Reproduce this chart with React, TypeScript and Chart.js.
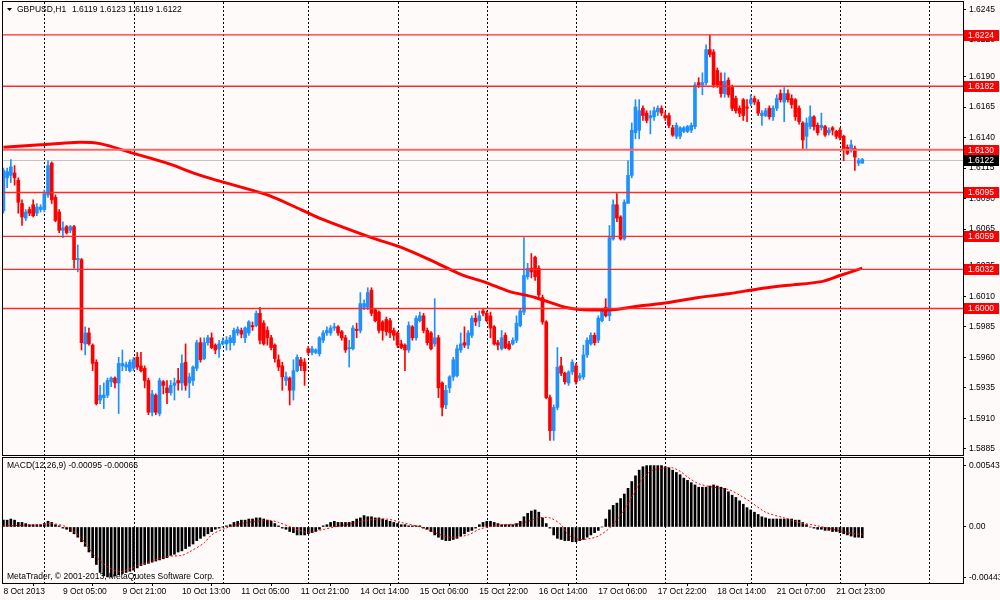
import React, { useEffect, useRef } from "react";
import { Chart, registerables } from "chart.js";

Chart.register(...registerables);

// ---------------- DATA ----------------
const symbolTitle = "GBPUSD,H1";
const macdTitle = "MACD(12,26,9) -0.00095 -0.00066";
const copyrightText = "MetaTrader, \u00A9 2001-2013, MetaQuotes Software Corp.";

const openP = [
  1.6080, 1.6107, 1.6109, 1.6111, 1.6105, 1.6086, 1.6074, 1.6081, 1.6085, 1.6078,
  1.6081, 1.6081, 1.6093, 1.6119, 1.6091, 1.6079, 1.6064, 1.6067, 1.6064, 1.6067,
  1.6040, 1.6040, 1.5971, 1.5980, 1.5970, 1.5956, 1.5925, 1.5927, 1.5929, 1.5940,
  1.5943, 1.5939, 1.5953, 1.5952, 1.5949, 1.5951, 1.5960, 1.5953, 1.5951, 1.5941,
  1.5915, 1.5929, 1.5914, 1.5940, 1.5935, 1.5931, 1.5937, 1.5941, 1.5939, 1.5956,
  1.5939, 1.5941, 1.5951, 1.5972, 1.5959, 1.5972, 1.5976, 1.5970, 1.5967, 1.5971,
  1.5971, 1.5972, 1.5972, 1.5980, 1.5982, 1.5976, 1.5980, 1.5986, 1.5986, 1.5996,
  1.5988, 1.5982, 1.5976, 1.5970, 1.5958, 1.5953, 1.5941, 1.5943, 1.5933, 1.5949,
  1.5958, 1.5956, 1.5967, 1.5964, 1.5964, 1.5963, 1.5974, 1.5980, 1.5980, 1.5984,
  1.5985, 1.5981, 1.5976, 1.5967, 1.5967, 1.5983, 1.5982, 1.6001, 1.6001, 1.6015,
  1.5999, 1.5997, 1.5989, 1.5991, 1.5990, 1.5982, 1.5980, 1.5971, 1.5970, 1.5966,
  1.5985, 1.5976, 1.5990, 1.5994, 1.5982, 1.5980, 1.5971, 1.5976, 1.5939, 1.5921,
  1.5935, 1.5944, 1.5945, 1.5966, 1.5972, 1.5970, 1.5978, 1.5992, 1.5990, 1.5998,
  1.5996, 1.5994, 1.5985, 1.5972, 1.5967, 1.5978, 1.5971, 1.5971, 1.5974, 1.5986,
  1.5997, 1.6026, 1.6033, 1.6042, 1.6033, 1.6009, 1.5989, 1.5927, 1.5900, 1.5919,
  1.5953, 1.5947, 1.5939, 1.5948, 1.5953, 1.5943, 1.5944, 1.5962, 1.5971, 1.5978,
  1.5974, 1.5990, 1.6001, 1.5994, 1.6057, 1.6085, 1.6075, 1.6057, 1.6086, 1.6109,
  1.6144, 1.6146, 1.6164, 1.6160, 1.6156, 1.6157, 1.6161, 1.6164, 1.6158, 1.6158,
  1.6148, 1.6141, 1.6141, 1.6145, 1.6145, 1.6146, 1.6149, 1.6185, 1.6183, 1.6185,
  1.6212, 1.6210, 1.6195, 1.6186, 1.6176, 1.6187, 1.6181, 1.6172, 1.6164, 1.6171,
  1.6165, 1.6168, 1.6172, 1.6169, 1.6158, 1.6158, 1.6164, 1.6157, 1.6164, 1.6176,
  1.6169, 1.6176, 1.6172, 1.6171, 1.6164, 1.6152, 1.6141, 1.6149, 1.6157, 1.6150,
  1.6148, 1.6149, 1.6144, 1.6148, 1.6145, 1.6146, 1.6141, 1.6132, 1.6130, 1.6131,
  1.6119, 1.6119,
];

const highP = [
  1.6115, 1.6115, 1.6122, 1.6117, 1.6107, 1.6089, 1.6081, 1.6083, 1.6089, 1.6086,
  1.6085, 1.6097, 1.6121, 1.6120, 1.6093, 1.6081, 1.6071, 1.6068, 1.6068, 1.6068,
  1.6052, 1.6041, 1.5985, 1.5984, 1.5971, 1.5958, 1.5937, 1.5939, 1.5943, 1.5944,
  1.5944, 1.5960, 1.5966, 1.5956, 1.5958, 1.5960, 1.5964, 1.5964, 1.5953, 1.5943,
  1.5933, 1.5930, 1.5943, 1.5941, 1.5941, 1.5941, 1.5943, 1.5951, 1.5962, 1.5971,
  1.5947, 1.5953, 1.5974, 1.5976, 1.5976, 1.5978, 1.5980, 1.5971, 1.5974, 1.5976,
  1.5977, 1.5978, 1.5984, 1.5985, 1.5984, 1.5985, 1.5990, 1.5989, 1.5998, 1.6001,
  1.5990, 1.5985, 1.5978, 1.5971, 1.5962, 1.5956, 1.5948, 1.5944, 1.5958, 1.5962,
  1.5960, 1.5959, 1.5969, 1.5969, 1.5967, 1.5977, 1.5982, 1.5985, 1.5986, 1.5988,
  1.5986, 1.5982, 1.5978, 1.5974, 1.5986, 1.5988, 1.6013, 1.6007, 1.6017, 1.6017,
  1.6000, 1.5998, 1.5990, 1.5993, 1.5992, 1.5984, 1.5981, 1.5974, 1.5971, 1.5989,
  1.5986, 1.5994, 1.5997, 1.5996, 1.5984, 1.5981, 1.6008, 1.5978, 1.5940, 1.5937,
  1.5945, 1.5960, 1.5970, 1.5980, 1.5985, 1.5982, 1.5994, 1.5996, 1.5998, 1.6000,
  1.5998, 1.5997, 1.5986, 1.5974, 1.5982, 1.5980, 1.5973, 1.5976, 1.5994, 1.6000,
  1.6058, 1.6037, 1.6045, 1.6043, 1.6035, 1.6011, 1.5990, 1.5929, 1.5921, 1.5968,
  1.5960, 1.5948, 1.5949, 1.5958, 1.5955, 1.5947, 1.5970, 1.5976, 1.5980, 1.5980,
  1.5994, 1.6000, 1.6008, 1.6068, 1.6089, 1.6094, 1.6076, 1.6089, 1.6121, 1.6152,
  1.6171, 1.6171, 1.6166, 1.6162, 1.6162, 1.6165, 1.6166, 1.6166, 1.6161, 1.6160,
  1.6150, 1.6152, 1.6149, 1.6149, 1.6150, 1.6152, 1.6185, 1.6189, 1.6193, 1.6216,
  1.6224, 1.6212, 1.6197, 1.6193, 1.6193, 1.6189, 1.6183, 1.6174, 1.6166, 1.6172,
  1.6171, 1.6175, 1.6174, 1.6171, 1.6162, 1.6164, 1.6166, 1.6166, 1.6175, 1.6179,
  1.6181, 1.6179, 1.6175, 1.6172, 1.6166, 1.6153, 1.6156, 1.6166, 1.6158, 1.6152,
  1.6160, 1.6150, 1.6148, 1.6149, 1.6146, 1.6148, 1.6142, 1.6134, 1.6138, 1.6133,
  1.6123, 1.6123,
];

const lowP = [
  1.6078, 1.6099, 1.6103, 1.6101, 1.6078, 1.6068, 1.6072, 1.6076, 1.6075, 1.6076,
  1.6079, 1.6079, 1.6091, 1.6086, 1.6071, 1.6062, 1.6058, 1.6061, 1.6062, 1.6033,
  1.6030, 1.5966, 1.5962, 1.5970, 1.5949, 1.5921, 1.5922, 1.5918, 1.5927, 1.5936,
  1.5935, 1.5914, 1.5949, 1.5949, 1.5948, 1.5949, 1.5950, 1.5948, 1.5935, 1.5913,
  1.5912, 1.5913, 1.5912, 1.5930, 1.5922, 1.5929, 1.5925, 1.5933, 1.5933, 1.5933,
  1.5927, 1.5937, 1.5949, 1.5956, 1.5958, 1.5970, 1.5967, 1.5963, 1.5960, 1.5970,
  1.5966, 1.5966, 1.5970, 1.5978, 1.5976, 1.5972, 1.5978, 1.5982, 1.5985, 1.5971,
  1.5970, 1.5970, 1.5966, 1.5956, 1.5949, 1.5933, 1.5937, 1.5921, 1.5925, 1.5948,
  1.5949, 1.5937, 1.5962, 1.5962, 1.5963, 1.5961, 1.5972, 1.5978, 1.5978, 1.5982,
  1.5978, 1.5974, 1.5964, 1.5952, 1.5966, 1.5976, 1.5980, 1.5999, 1.5999, 1.5994,
  1.5989, 1.5980, 1.5974, 1.5978, 1.5976, 1.5974, 1.5968, 1.5967, 1.5949, 1.5964,
  1.5974, 1.5974, 1.5989, 1.5980, 1.5970, 1.5966, 1.5969, 1.5927, 1.5912, 1.5918,
  1.5931, 1.5941, 1.5944, 1.5964, 1.5968, 1.5967, 1.5976, 1.5986, 1.5985, 1.5994,
  1.5989, 1.5976, 1.5970, 1.5966, 1.5966, 1.5967, 1.5966, 1.5970, 1.5972, 1.5985,
  1.5995, 1.6024, 1.6025, 1.6023, 1.6009, 1.5987, 1.5926, 1.5892, 1.5892, 1.5917,
  1.5945, 1.5938, 1.5937, 1.5946, 1.5938, 1.5941, 1.5942, 1.5960, 1.5970, 1.5970,
  1.5972, 1.5989, 1.5993, 1.5990, 1.6056, 1.6071, 1.6056, 1.6056, 1.6103, 1.6107,
  1.6139, 1.6139, 1.6154, 1.6152, 1.6143, 1.6154, 1.6158, 1.6158, 1.6154, 1.6148,
  1.6141, 1.6139, 1.6139, 1.6144, 1.6144, 1.6144, 1.6147, 1.6181, 1.6175, 1.6183,
  1.6206, 1.6181, 1.6181, 1.6173, 1.6173, 1.6173, 1.6162, 1.6160, 1.6157, 1.6154,
  1.6153, 1.6166, 1.6167, 1.6158, 1.6150, 1.6157, 1.6155, 1.6154, 1.6162, 1.6169,
  1.6153, 1.6169, 1.6164, 1.6154, 1.6151, 1.6131, 1.6131, 1.6147, 1.6146, 1.6142,
  1.6146, 1.6141, 1.6142, 1.6142, 1.6139, 1.6138, 1.6121, 1.6126, 1.6128, 1.6113,
  1.6117, 1.6119,
];

const closeP = [
  1.6113, 1.6112, 1.6116, 1.6107, 1.6087, 1.6075, 1.6079, 1.6078, 1.6076, 1.6083,
  1.6083, 1.6094, 1.6117, 1.6089, 1.6072, 1.6064, 1.6066, 1.6062, 1.6067, 1.6040,
  1.6041, 1.5972, 1.5980, 1.5971, 1.5955, 1.5922, 1.5929, 1.5929, 1.5941, 1.5943,
  1.5939, 1.5955, 1.5955, 1.5954, 1.5956, 1.5958, 1.5952, 1.5949, 1.5941, 1.5915,
  1.5930, 1.5915, 1.5941, 1.5937, 1.5931, 1.5937, 1.5939, 1.5939, 1.5955, 1.5937,
  1.5944, 1.5952, 1.5972, 1.5958, 1.5972, 1.5976, 1.5968, 1.5966, 1.5971, 1.5973,
  1.5974, 1.5976, 1.5982, 1.5983, 1.5979, 1.5984, 1.5989, 1.5985, 1.5996, 1.5974,
  1.5971, 1.5976, 1.5968, 1.5959, 1.5952, 1.5944, 1.5944, 1.5933, 1.5949, 1.5960,
  1.5953, 1.5949, 1.5964, 1.5967, 1.5966, 1.5976, 1.5980, 1.5982, 1.5984, 1.5985,
  1.5980, 1.5976, 1.5966, 1.5968, 1.5984, 1.5982, 1.6004, 1.6004, 1.6013, 1.5996,
  1.5990, 1.5982, 1.5982, 1.5981, 1.5980, 1.5978, 1.5970, 1.5968, 1.5966, 1.5986,
  1.5976, 1.5992, 1.5994, 1.5982, 1.5972, 1.5967, 1.5976, 1.5935, 1.5919, 1.5933,
  1.5944, 1.5958, 1.5967, 1.5971, 1.5970, 1.5980, 1.5992, 1.5989, 1.5994, 1.5996,
  1.5990, 1.5984, 1.5971, 1.5970, 1.5976, 1.5968, 1.5967, 1.5974, 1.5988, 1.5998,
  1.6027, 1.6033, 1.6030, 1.6026, 1.6011, 1.5989, 1.5927, 1.5900, 1.5919, 1.5952,
  1.5947, 1.5940, 1.5948, 1.5956, 1.5940, 1.5945, 1.5962, 1.5974, 1.5978, 1.5972,
  1.5992, 1.5998, 1.5994, 1.6058, 1.6085, 1.6074, 1.6057, 1.6087, 1.6109, 1.6146,
  1.6165, 1.6162, 1.6158, 1.6154, 1.6158, 1.6162, 1.6164, 1.6160, 1.6156, 1.6150,
  1.6142, 1.6150, 1.6148, 1.6148, 1.6149, 1.6150, 1.6183, 1.6183, 1.6185, 1.6212,
  1.6208, 1.6183, 1.6183, 1.6176, 1.6186, 1.6175, 1.6164, 1.6162, 1.6160, 1.6158,
  1.6164, 1.6171, 1.6169, 1.6160, 1.6160, 1.6162, 1.6157, 1.6164, 1.6172, 1.6171,
  1.6176, 1.6171, 1.6167, 1.6157, 1.6153, 1.6138, 1.6152, 1.6157, 1.6149, 1.6144,
  1.6150, 1.6142, 1.6146, 1.6146, 1.6141, 1.6140, 1.6130, 1.6127, 1.6134, 1.6124,
  1.6121, 1.6122,
];

// moving average read at sampled bars
const maIdx = [0, 10, 19, 26, 35, 44, 53, 62, 71, 80, 85, 99, 107, 116, 123, 130, 136, 143, 151, 156, 164, 171, 177, 187, 195, 203, 211, 220, 225, 231];
const maVal = [1.6132, 1.6134, 1.6136, 1.6135, 1.6127, 1.6119, 1.6109, 1.6101, 1.6093, 1.6081, 1.6074, 1.6058, 1.6050, 1.6038, 1.6028, 1.6021, 1.6014, 1.6009, 1.6001, 1.5999, 1.5999, 1.6002, 1.6004, 1.6009, 1.6012, 1.6016, 1.6019, 1.6022, 1.6027, 1.6033];

const levelPrices = [1.6224, 1.6182, 1.6130, 1.6095, 1.6059, 1.6032, 1.6000];
const currentPrice = 1.6122;
const priceTicks = [1.6245, 1.6220, 1.6190, 1.6165, 1.6140, 1.6115, 1.6090, 1.6065, 1.6035, 1.6010, 1.5985, 1.5960, 1.5935, 1.5910, 1.5885];

const timeLabels = ["8 Oct 2013", "9 Oct 05:00", "9 Oct 21:00", "10 Oct 13:00", "11 Oct 05:00", "11 Oct 21:00", "14 Oct 14:00", "15 Oct 06:00", "15 Oct 22:00", "16 Oct 14:00", "17 Oct 06:00", "17 Oct 22:00", "18 Oct 14:00", "21 Oct 07:00", "21 Oct 23:00"];
const timeLabelIdx = [0, 16, 32, 48, 64, 80, 96, 112, 128, 144, 160, 176, 192, 208, 224];
const dayGridIdx = [11, 35, 59, 82, 106, 130, 154, 178, 201, 225, 249];

// MACD histogram, in units of 0.0001
const macdHistPts = [
  6, 6, 7, 6, 4, 4, 3, 2, 2, 2, 2, 3, 5, 4, 2, 1,
  -1, -2, -4, -6, -9, -13, -17, -22, -27, -33, -40, -43, -44, -44, -43, -42,
  -41, -40, -39, -38, -36, -34, -33, -32, -31, -30, -29, -28, -27, -25, -24, -22,
  -21, -19, -17, -15, -12, -10, -8, -6, -4, -2, -1, 0, 1, 2, 4, 5,
  6, 6, 7, 7, 8, 8, 7, 6, 5, 3, 1, -1, -2, -4, -5, -7,
  -7, -7, -6, -5, -4, -2, 1, 2, 4, 5, 4, 4, 4, 4, 5, 7,
  8, 10, 9, 9, 8, 8, 7, 6, 5, 4, 3, 2, 2, 1, 1, 1,
  1, -1, -2, -4, -7, -9, -11, -12, -12, -11, -10, -8, -6, -4, -3, -1,
  2, 4, 5, 5, 4, 3, 2, 2, 2, 2, 3, 5, 9, 12, 14, 15,
  13, 8, 3, -1, -7, -10, -11, -12, -12, -13, -13, -12, -11, -9, -7, -5,
  -3, 0, 7, 15, 19, 21, 25, 29, 34, 40, 45, 50, 53, 54, 54, 54,
  54, 54, 53, 52, 50, 48, 46, 43, 41, 39, 37, 35, 35, 35, 36, 37,
  36, 35, 34, 31, 28, 26, 23, 20, 17, 15, 13, 11, 9, 8, 7, 7,
  7, 7, 7, 7, 7, 6, 6, 4, 2, 0, -1, -2, -2, -3, -3, -4,
  -4, -5, -6, -7, -8, -9, -9, -9.5,
];

// MACD signal line, sampled, in units of 0.0001
const signalIdx = [0, 10, 13, 17, 21, 24, 28, 31, 33, 37, 40, 44, 48, 50, 54, 56, 59, 64, 71, 74, 78, 82, 85, 89, 92, 98, 103, 107, 112, 116, 120, 125, 128, 132, 134, 139, 144, 147, 150, 152, 155, 158, 160, 163, 167, 171, 174, 178, 180, 182, 184, 187, 191, 195, 198, 201, 205, 210, 214, 219, 223, 228, 231];
const signalPts = [1, 2, 3, 0, -10, -23, -35, -39, -38, -33, -30, -26, -25, -22, -14, -7, -2, 3, 6, 4, -1, -5, -3, 0, 2, 6, 7, 4, 0, -5, -9, -7, -2, 1, 2, 3, 8, 8, 2, -7, -11, -10, -8, -1, 15, 38, 49, 52, 52, 49, 44, 38, 35, 33, 28, 22, 13, 8, 4, 1, -2, -5.5, -6.6];

const macdTicks = [0.00543, 0, -0.00443];
const macdTickLabels = ["0.00543", "0.00", "-0.00443"];

// ---------------- STYLE ----------------
const BG = "#fffafa";
const FONT = '"Liberation Sans", Arial, sans-serif';
const FS = 8.5;
const BULL = "#1e90ff";
const BEAR = "#ff0000";
const X_MIN = -0.11;
const X_MAX = 258.09;
const AXIS_W = 37;

function drawDayGrid(chart: any) {
  const { ctx, chartArea: a, scales } = chart;
  const x = scales.x;
  ctx.save();
  ctx.strokeStyle = "#000";
  ctx.lineWidth = 1;
  ctx.setLineDash([2, 2]);
  for (const g of dayGridIdx) {
    const px = Math.round(x.getPixelForValue(g)) + 0.5;
    if (px <= a.left || px >= a.right) continue;
    ctx.beginPath();
    ctx.moveTo(px, a.top);
    ctx.lineTo(px, a.bottom);
    ctx.stroke();
  }
  ctx.restore();
}

function drawFrame(chart: any) {
  const { ctx, chartArea: a } = chart;
  ctx.save();
  ctx.strokeStyle = "#000";
  ctx.lineWidth = 1;
  ctx.strokeRect(Math.round(a.left) - 0.5, Math.round(a.top) - 0.5, Math.round(a.right - a.left) + 1, Math.round(a.bottom - a.top) + 1);
  ctx.restore();
}

const bgPlugin = {
  id: "bgPlugin",
  beforeDraw(chart: any) {
    const { ctx, width, height } = chart;
    ctx.save();
    ctx.fillStyle = BG;
    ctx.fillRect(0, 0, width, height);
    ctx.restore();
  },
};

const mainDecor = {
  id: "mainDecor",
  beforeDatasetsDraw(chart: any) {
    drawDayGrid(chart);
    const { ctx, chartArea: a, scales } = chart;
    const cy = Math.round(scales.y.getPixelForValue(currentPrice)) + 0.5;
    ctx.save();
    ctx.strokeStyle = "#c4c4c4";
    ctx.lineWidth = 1;
    ctx.beginPath();
    ctx.moveTo(a.left, cy);
    ctx.lineTo(a.right, cy);
    ctx.stroke();
    ctx.restore();
  },
  afterDatasetsDraw(chart: any) {
    const { ctx, chartArea: a, scales } = chart;
    const y = scales.y;
    ctx.save();
    // horizontal levels
    for (const p of levelPrices) {
      const py = y.getPixelForValue(p);
      const thick = Math.abs(p - 1.613) < 1e-6;
      ctx.strokeStyle = thick ? "#ff6464" : "#ff2a2a";
      ctx.lineWidth = thick ? 2 : 1.3;
      ctx.beginPath();
      ctx.moveTo(a.left, py);
      ctx.lineTo(a.right, py);
      ctx.stroke();
    }
    ctx.restore();
    drawFrame(chart);
    // right side price boxes
    ctx.save();
    ctx.font = `${FS}px ${FONT}`;
    ctx.textBaseline = "middle";
    ctx.textAlign = "left";
    const box = (p: number, fill: string) => {
      const py = Math.round(y.getPixelForValue(p));
      ctx.fillStyle = fill;
      ctx.fillRect(a.right + 1, py - 5, 35, 11);
      ctx.fillStyle = "#fff";
      ctx.fillText(p.toFixed(4), a.right + 5, py + 0.5);
    };
    for (const p of levelPrices) box(p, "#ff0000");
    box(currentPrice, "#000");
    // title
    const last = closeP.length - 1;
    ctx.fillStyle = "#000";
    ctx.beginPath();
    ctx.moveTo(7, 8);
    ctx.lineTo(12, 8);
    ctx.lineTo(9.5, 11);
    ctx.closePath();
    ctx.fill();
    ctx.fillText(symbolTitle, 17, 9.5);
    ctx.fillText(
      `${openP[last].toFixed(4)} ${highP[last].toFixed(4)} ${lowP[last].toFixed(4)} ${closeP[last].toFixed(4)}`,
      72,
      9.5
    );
    ctx.restore();
  },
};

const macdDecor = {
  id: "macdDecor",
  beforeDatasetsDraw(chart: any) {
    drawDayGrid(chart);
    const { ctx } = chart;
    ctx.save();
    ctx.font = `${FS}px ${FONT}`;
    ctx.fillStyle = "#000";
    ctx.textBaseline = "middle";
    ctx.textAlign = "left";
    ctx.fillText(copyrightText, 7, 121);
    ctx.restore();
  },
  afterDatasetsDraw(chart: any) {
    drawFrame(chart);
    const { ctx } = chart;
    ctx.save();
    ctx.font = `${FS}px ${FONT}`;
    ctx.fillStyle = "#000";
    ctx.textBaseline = "middle";
    ctx.textAlign = "left";
    ctx.fillText(macdTitle, 7, 10);
    ctx.restore();
  },
};

function mainConfig(): any {
  const bull = closeP.map((c, i) => c >= openP[i]);
  const colors = bull.map((b) => (b ? BULL : BEAR));
  return {
    type: "bar",
    data: {
      datasets: [
        {
          type: "line",
          data: maIdx.map((x, k) => ({ x, y: maVal[k] })),
          borderColor: "#ff0000",
          borderWidth: 3,
          pointRadius: 0,
          tension: 0.3,
          fill: false,
          order: 0,
        },
        {
          type: "bar",
          data: closeP.map((c, i) => ({ x: i, y: [openP[i], c] })),
          backgroundColor: colors,
          borderWidth: 0,
          barThickness: 3,
          maxBarThickness: 3,
          minBarLength: 1,
          grouped: false,
          order: 1,
        },
        {
          type: "bar",
          data: closeP.map((_c, i) => ({ x: i, y: [lowP[i], highP[i]] })),
          backgroundColor: colors,
          borderWidth: 0,
          barThickness: 1,
          maxBarThickness: 1,
          minBarLength: 1,
          grouped: false,
          order: 2,
        },
      ],
    },
    options: {
      responsive: false,
      maintainAspectRatio: false,
      animation: false,
      events: [],
      layout: { padding: { left: 3, top: 2, right: 0, bottom: 1 } },
      plugins: { legend: { display: false }, tooltip: { enabled: false } },
      scales: {
        x: { type: "linear", min: X_MIN, max: X_MAX, display: false, offset: false },
        y: {
          position: "right",
          min: 1.588,
          max: 1.6251,
          afterBuildTicks: (s: any) => {
            s.ticks = priceTicks.map((v) => ({ value: v }));
          },
          afterFit: (s: any) => {
            s.width = AXIS_W;
            s.paddingTop = 0;
            s.paddingBottom = 0;
          },
          ticks: {
            autoSkip: false,
            padding: 3,
            color: "#000",
            font: { family: FONT, size: FS },
            callback: (v: any) => Number(v).toFixed(4),
          },
          grid: { drawOnChartArea: false, drawTicks: true, tickLength: 3, color: "#000" },
          border: { display: false },
        },
      },
    },
    plugins: [bgPlugin, mainDecor],
  };
}

function macdConfig(): any {
  return {
    type: "bar",
    data: {
      datasets: [
        {
          type: "line",
          data: signalIdx.map((x, k) => ({ x, y: signalPts[k] / 10000 })),
          borderColor: "#ff0000",
          borderWidth: 1,
          borderDash: [2, 2],
          pointRadius: 0,
          tension: 0.3,
          fill: false,
          order: 0,
        },
        {
          type: "bar",
          data: macdHistPts.map((v, i) => ({ x: i, y: v / 10000 })),
          backgroundColor: "#000",
          borderWidth: 0,
          barThickness: 2,
          maxBarThickness: 2,
          grouped: false,
          order: 1,
        },
      ],
    },
    options: {
      responsive: false,
      maintainAspectRatio: false,
      animation: false,
      events: [],
      layout: { padding: { left: 3, top: 2, right: 0, bottom: 0 } },
      plugins: { legend: { display: false }, tooltip: { enabled: false } },
      scales: {
        x: {
          type: "linear",
          min: X_MIN,
          max: X_MAX,
          offset: false,
          afterBuildTicks: (s: any) => {
            s.ticks = timeLabelIdx.map((v) => ({ value: v }));
          },
          afterFit: (s: any) => {
            s.height = 17;
            s.paddingLeft = 0;
            s.paddingRight = 0;
          },
          ticks: {
            autoSkip: false,
            maxRotation: 0,
            minRotation: 0,
            align: "start",
            padding: 1,
            color: "#000",
            font: { family: FONT, size: FS },
            callback: (v: any) => {
              const k = timeLabelIdx.indexOf(Number(v));
              return k >= 0 ? timeLabels[k] : "";
            },
          },
          grid: { drawOnChartArea: false, drawTicks: true, tickLength: 3, color: "#000" },
          border: { display: false },
        },
        y: {
          position: "right",
          min: -0.00493,
          max: 0.00607,
          afterBuildTicks: (s: any) => {
            s.ticks = macdTicks.map((v) => ({ value: v }));
          },
          afterFit: (s: any) => {
            s.width = AXIS_W;
            s.paddingTop = 0;
            s.paddingBottom = 0;
          },
          ticks: {
            autoSkip: false,
            padding: 3,
            color: "#000",
            font: { family: FONT, size: FS },
            callback: (v: any) => {
              const k = macdTicks.findIndex((t) => Math.abs(t - Number(v)) < 1e-9);
              return k >= 0 ? macdTickLabels[k] : "";
            },
          },
          grid: { drawOnChartArea: false, drawTicks: true, tickLength: 3, color: "#000" },
          border: { display: false },
        },
      },
    },
    plugins: [bgPlugin, macdDecor],
  };
}

export default function App() {
  const mainRef = useRef<HTMLCanvasElement>(null);
  const macdRef = useRef<HTMLCanvasElement>(null);

  useEffect(() => {
    const c1 = new Chart(mainRef.current as HTMLCanvasElement, mainConfig());
    const c2 = new Chart(macdRef.current as HTMLCanvasElement, macdConfig());
    return () => {
      c1.destroy();
      c2.destroy();
    };
  }, []);

  return (
    <div
      style={{
        position: "fixed",
        left: 0,
        top: 0,
        width: 1000,
        height: 600,
        background: BG,
        overflow: "hidden",
      }}
    >
      <canvas ref={mainRef} width={1000} height={456} style={{ display: "block", width: 1000, height: 456 }} />
      <canvas ref={macdRef} width={1000} height={144} style={{ display: "block", width: 1000, height: 144 }} />
    </div>
  );
}
